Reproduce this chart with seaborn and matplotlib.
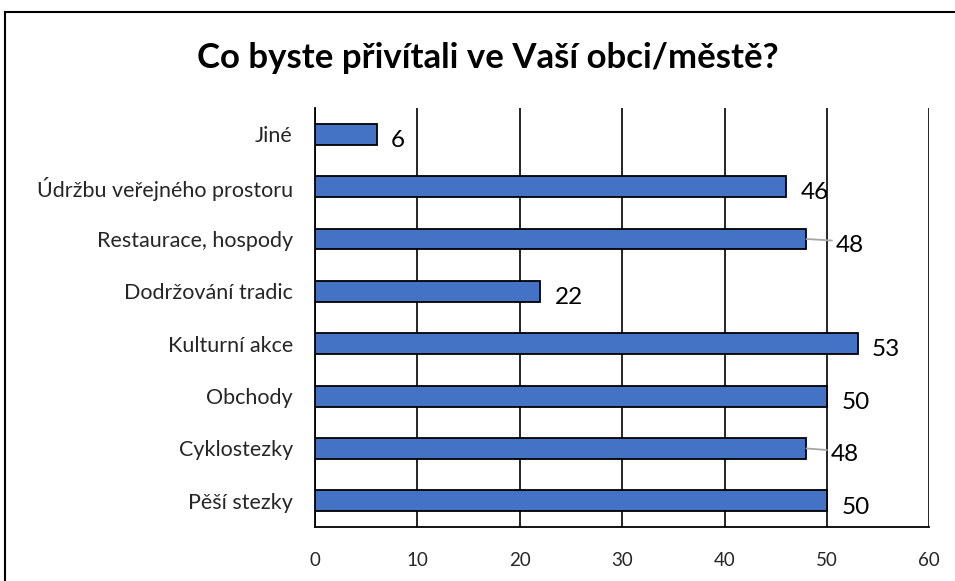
import pandas as pd
import seaborn as sns
import matplotlib.pyplot as plt
from matplotlib.patches import Rectangle

# Data
categories = ["Jiné", "Údržbu veřejného prostoru", "Restaurace, hospody", "Dodržování tradic",
              "Kulturní akce", "Obchody", "Cyklostezky", "Pěší stezky"]
counts = [6, 46, 48, 22, 53, 50, 48, 50]
x_ticks = [0, 10, 20, 30, 40, 50, 60]
title = "Co byste přivítali ve Vaší obci/městě?"

# labels that Excel pushed aside with a leader line: category -> extra shift (data units)
leader_shift = {"Restaurace, hospody": 2.9, "Cyklostezky": 2.4}

df = pd.DataFrame({"Kategorie": categories, "Počet": counts})

sns.set_theme(style="white")
plt.rcParams['font.family'] = ['Lato', 'DejaVu Sans']

fig = plt.figure(figsize=(9.55, 5.81), dpi=100)
ax = fig.add_axes([0.330, 0.093, 0.643, 0.721])

sns.barplot(data=df, x="Počet", y="Kategorie", orient="h", color="#4472C4",
            saturation=1, width=0.4, edgecolor="black", linewidth=1.3, ax=ax, zorder=3)

ax.set_xlim(0, 60)
ax.set_ylim(7.5, -0.5)
ax.set_xticks(x_ticks)
ax.set_xticklabels([str(t) for t in x_ticks], fontsize=13.5)
ax.tick_params(axis="x", length=0, pad=18)
ax.tick_params(axis="y", length=0, pad=16, labelsize=15.5)
ax.set_xlabel("")
ax.set_ylabel("")

ax.grid(axis="x", color="black", linewidth=1.2, zorder=0)
ax.set_axisbelow(True)
for side in ["top", "right"]:
    ax.spines[side].set_visible(False)
for side in ["left", "bottom"]:
    ax.spines[side].set_color("black")
    ax.spines[side].set_linewidth(1.3)

# value labels
for i, (cat, val) in enumerate(zip(categories, counts)):
    shift = leader_shift.get(cat, 0)
    if shift:
        ax.plot([val, val + shift - 0.4], [i, i + 0.03], color="#A6A6A6", linewidth=1.3, zorder=4)
        ax.text(val + shift, i + 0.12, str(val), va="center", ha="left", fontsize=17.5, color="black")
    else:
        ax.text(val + 1.4, i + 0.12, str(val), va="center", ha="left", fontsize=17.5, color="black")

fig.text(0.511, 0.90, title, ha="center", va="center", fontsize=25, fontweight="bold", color="black")

# outer chart border (cut off at the right and bottom like the source)
top = 1 - 12 / 581
fig.patches.append(Rectangle((5 / 955, -0.05), 1.2, top + 0.05,
                             transform=fig.transFigure, fill=False, edgecolor="black", linewidth=1.5))

fig.savefig("out.png", dpi=100, facecolor="white")
